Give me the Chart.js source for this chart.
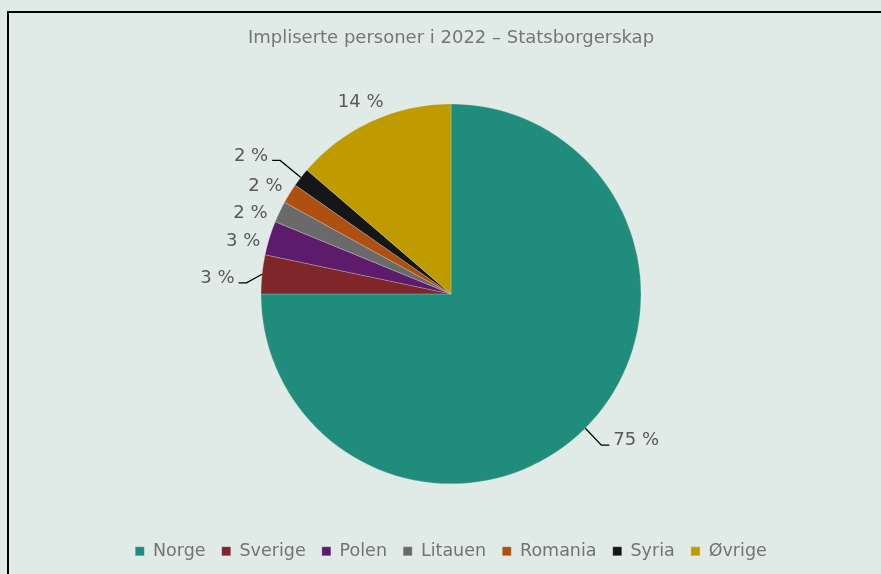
<!DOCTYPE html>
<html lang="no">
<head>
<meta charset="utf-8">
<title>Impliserte personer i 2022 – Statsborgerskap</title>
<script src="https://cdn.jsdelivr.net/npm/chart.js@4/dist/chart.umd.min.js"></script>
<style>
    html, body {
        margin: 0;
        padding: 0;
        width: 881px;
        height: 574px;
        overflow: hidden;
        background: #e0eae7;
    }
    /* chart frame, only left and top edges are inside the window */
    .frame {
        position: absolute;
        left: 7px;
        top: 11px;
        width: 2000px;
        height: 2000px;
        border-left: 2px solid #000;
        border-top: 2px solid #000;
    }
    #citizenshipPie {
        position: absolute;
        left: 0;
        top: 0;
    }
</style>
</head>
<body>
<div class="frame"></div>
<canvas id="citizenshipPie" width="881" height="574"></canvas>

<script>
/*
 * Implicated persons 2022 by citizenship (share in percent)
 */
const countries = ['Norge', 'Sverige', 'Polen', 'Litauen', 'Romania', 'Syria', 'Øvrige'];
const shares = [75.0, 3.3, 2.9, 1.8, 1.7, 1.6, 13.7];
const sliceColors = ['#1f8c7c', '#7e2629', '#5e1b6b', '#6a6a6a', '#ad5010', '#141617', '#bf9b00'];

// manual label placement, relative to the outer midpoint of each slice
const labelPlacement = [
    { dx: 28, dy: 11, align: 'left', leader: true },
    { dx: -27.5, dy: 2.6, align: 'right', leader: true },
    { dx: -9, dy: 2.3, align: 'right', leader: false },
    { dx: -12, dy: 0, align: 'right', leader: false },
    { dx: -7, dy: -8.6, align: 'right', leader: false },
    { dx: -32.7, dy: -23, align: 'right', leader: true },
    { dx: -11, dy: -20, align: 'center', leader: false }
];

// percent labels outside the pie, with leader lines where the label is moved away
const pieLabels = {
    id: 'pieLabels',
    afterDatasetsDraw(chart, args, opts) {
        const ctx = chart.ctx;
        const arcs = chart.getDatasetMeta(0).data;
        const values = chart.data.datasets[0].data;
        const total = values.reduce((a, b) => a + b, 0);

        ctx.save();
        ctx.font = opts.font;
        ctx.textBaseline = 'middle';
        arcs.forEach((arc, i) => {
            const p = opts.placement[i];
            const mid = (arc.startAngle + arc.endAngle) / 2;
            const ex = arc.x + Math.cos(mid) * arc.outerRadius;
            const ey = arc.y + Math.sin(mid) * arc.outerRadius;
            const lx = ex + p.dx;
            const ly = ey + p.dy;

            if (p.leader) {
                const side = p.align === 'left' ? -1 : 1;
                ctx.beginPath();
                ctx.moveTo(ex, ey);
                ctx.lineTo(lx + side * 12, ly + 6);
                ctx.lineTo(lx + side * 4, ly + 6);
                ctx.strokeStyle = '#000';
                ctx.lineWidth = 1.25;
                ctx.stroke();
            }

            ctx.fillStyle = opts.color;
            ctx.textAlign = p.align;
            // text sits a bit lower than the canvas "middle" baseline
            ctx.fillText(Math.round(values[i] / total * 100) + ' %', lx, ly + 1.5);
        });
        ctx.restore();
    }
};

new Chart(document.getElementById('citizenshipPie'), {
    type: 'pie',
    data: {
        labels: countries,
        datasets: [{
            data: shares,
            backgroundColor: sliceColors,
            borderColor: 'rgba(224, 234, 231, 0.35)',
            borderWidth: 0.75
        }]
    },
    options: {
        responsive: false,
        animation: false,
        radius: 190,
        layout: {
            padding: { left: 21, right: 0, top: 0, bottom: 3.95 }
        },
        plugins: {
            title: {
                display: true,
                text: 'Impliserte personer i 2022 – Statsborgerskap',
                color: '#767676',
                font: { family: 'DejaVu Sans', size: 18, weight: 'normal' },
                padding: { top: 28, bottom: 11.8 }
            },
            legend: {
                display: true,
                position: 'bottom',
                labels: {
                    color: '#737373',
                    font: { family: 'DejaVu Sans', size: 17.5 },
                    boxWidth: 9,
                    boxHeight: 9,
                    padding: 16.2
                }
            },
            tooltip: {
                enabled: false
            },
            pieLabels: {
                font: '18px "DejaVu Sans"',
                color: '#595959',
                placement: labelPlacement
            }
        }
    },
    plugins: [pieLabels]
});
</script>
</body>
</html>
